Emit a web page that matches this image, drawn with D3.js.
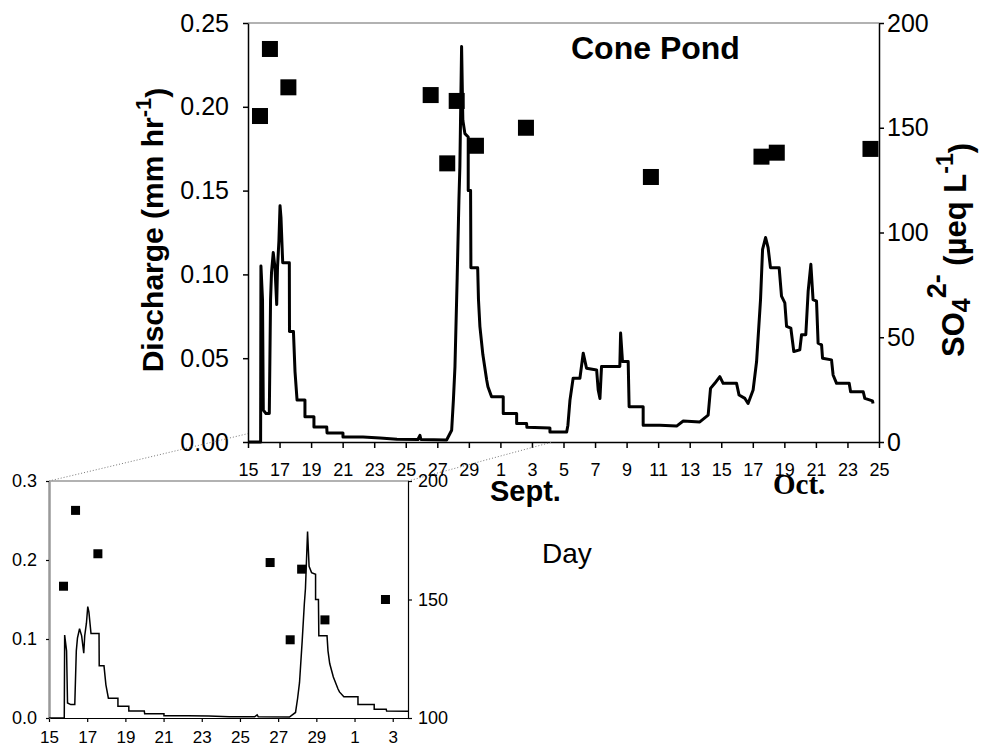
<!DOCTYPE html>
<html>
<head>
<meta charset="utf-8">
<script src="https://cdn.jsdelivr.net/npm/d3@7"></script>
<style>
  body { margin: 0; background: #fff; }
  svg text { font-family: "Liberation Sans", Arial, sans-serif; }
</style>
</head>
<body>
<div id="chart"></div>
<script>
// position along the day axis (0 = first tick "15", 2 units per labelled tick), discharge in mm/hr
const discharge = [
  [0, 0], [0.80, 0], [0.82, 0.105], [0.92, 0.085], [0.97, 0.019], [1.14, 0.017], [1.35, 0.017],
  [1.43, 0.085], [1.49, 0.101], [1.60, 0.113], [1.71, 0.104], [1.82, 0.082], [1.87, 0.104],
  [1.96, 0.120], [2.03, 0.141], [2.09, 0.134], [2.20, 0.107], [2.62, 0.107], [2.63, 0.066],
  [2.88, 0.066], [2.98, 0.042], [3.11, 0.025], [3.61, 0.025], [3.61, 0.015], [4.18, 0.015],
  [4.18, 0.009], [4.99, 0.009], [5.01, 0.0054], [6.02, 0.0054], [6.02, 0.003], [7.29, 0.003],
  [8.37, 0.0024], [9.44, 0.0016], [10.77, 0.0015], [10.90, 0.004], [10.96, 0.0015],
  [12.59, 0.0012], [12.91, 0.007], [13.02, 0.025], [13.12, 0.045], [13.26, 0.098], [13.37, 0.144],
  [13.43, 0.164], [13.54, 0.236], [13.62, 0.192], [13.75, 0.184], [13.96, 0.182], [13.96, 0.150],
  [14.11, 0.150], [14.13, 0.104], [14.56, 0.104], [14.61, 0.085], [14.70, 0.069], [14.89, 0.052],
  [15.13, 0.037], [15.21, 0.033], [15.44, 0.027], [16.18, 0.027], [16.18, 0.017], [17.03, 0.017],
  [17.03, 0.011], [17.66, 0.011], [17.68, 0.0088], [19.14, 0.0084], [19.14, 0.006], [20.20, 0.006],
  [20.28, 0.010], [20.41, 0.025], [20.61, 0.038], [21.04, 0.038], [21.25, 0.053], [21.46, 0.044],
  [22.10, 0.043], [22.20, 0.031], [22.31, 0.026], [22.41, 0.045], [23.57, 0.045], [23.62, 0.065],
  [23.74, 0.048], [24.10, 0.048], [24.16, 0.021], [25.05, 0.021], [25.05, 0.010], [26.11, 0.010],
  [27.17, 0.0095], [27.59, 0.0125], [28.64, 0.012], [29.17, 0.016], [29.32, 0.032], [29.59, 0.035],
  [29.91, 0.039], [30.12, 0.035], [30.97, 0.035], [31.13, 0.028], [31.50, 0.026], [31.70, 0.023],
  [32.02, 0.031], [32.24, 0.048], [32.49, 0.085], [32.62, 0.115], [32.81, 0.122], [32.97, 0.116],
  [33.12, 0.104], [33.67, 0.104], [33.82, 0.087], [34.03, 0.083], [34.14, 0.069], [34.41, 0.068],
  [34.60, 0.054], [34.98, 0.055], [35.09, 0.064], [35.36, 0.064], [35.51, 0.090], [35.68, 0.106],
  [35.82, 0.085], [36.04, 0.084], [36.14, 0.059], [36.36, 0.058], [36.42, 0.050], [36.99, 0.049],
  [37.09, 0.040], [37.31, 0.035], [38.11, 0.035], [38.20, 0.030], [39.00, 0.030], [39.10, 0.026],
  [39.59, 0.0245], [39.62, 0.023]
];

// sulfate samples (ueq/L)
const so4Day = [0.76, 1.39, 2.56, 11.58, 12.63, 13.23, 14.45, 17.62, 25.54, 32.55, 33.52, 39.46];
const so4Value = [155.6, 187.6, 169.3, 165.6, 133, 162.8, 141.4, 150, 126.5, 136.2, 138.1, 139.9];

const dayLabels = ["15", "17", "19", "21", "23", "25", "27", "29", "1", "3", "5", "7", "9",
  "11", "13", "15", "17", "19", "21", "23", "25"];
const dischargeTicks = [0, 0.05, 0.10, 0.15, 0.20, 0.25];
const so4Ticks = [0, 50, 100, 150, 200];
const insetDischargeTicks = [0, 0.1, 0.2, 0.3];
const insetSo4Ticks = [100, 150, 200];
const insetDayEnd = 18.8;

const sans = "'Liberation Sans', Arial, sans-serif";

const svg = d3.select("#chart")
  .append("svg")
  .attr("width", 982)
  .attr("height", 746);

// ---------- main chart ----------
const main = { left: 248, right: 879, top: 23, bottom: 442 };

const x = d3.scaleLinear().domain([0, 40]).range([main.left, main.right]);
const yQ = d3.scaleLinear().domain([0, 0.25]).range([main.bottom, main.top]);
const yS = d3.scaleLinear().domain([0, 200]).range([main.bottom, main.top]);

// top border
svg.append("line")
  .attr("x1", main.left).attr("x2", main.right)
  .attr("y1", main.top).attr("y2", main.top)
  .attr("stroke", "#999").attr("stroke-width", 1.5);

function styleAxis(g, size, width) {
  g.selectAll("path").attr("stroke", "#000").attr("stroke-width", width);
  g.selectAll("line").attr("stroke", "#000").attr("stroke-width", width);
  g.selectAll("text")
    .attr("fill", "#000")
    .style("font-family", sans)
    .style("font-size", size + "px");
}

svg.append("g")
  .attr("transform", `translate(0,${main.bottom})`)
  .call(d3.axisBottom(x)
    .tickValues(d3.range(0, 41, 2))
    .tickFormat((d, i) => dayLabels[i])
    .tickSize(6).tickPadding(15).tickSizeOuter(0))
  .call(g => styleAxis(g, 18, 1.5));

svg.append("g")
  .attr("transform", `translate(${main.left},0)`)
  .call(d3.axisLeft(yQ)
    .tickValues(dischargeTicks)
    .tickFormat(d3.format(".2f"))
    .tickSize(5).tickPadding(14).tickSizeOuter(0))
  .call(g => styleAxis(g, 25, 1.5));

svg.append("g")
  .attr("transform", `translate(${main.right},0)`)
  .call(d3.axisRight(yS)
    .tickValues(so4Ticks)
    .tickSize(5).tickPadding(3).tickSizeOuter(0))
  .call(g => styleAxis(g, 25, 1.5));

const line = d3.line()
  .x(d => x(d[0]))
  .y(d => yQ(d[1]));

svg.append("path")
  .datum(discharge)
  .attr("fill", "none")
  .attr("stroke", "#000")
  .attr("stroke-width", 3)
  .attr("stroke-linejoin", "round")
  .attr("d", line);

const sq = 16;
svg.append("g")
  .selectAll("rect")
  .data(so4Day)
  .join("rect")
  .attr("x", (d, i) => x(d) - sq / 2)
  .attr("y", (d, i) => yS(so4Value[i]) - sq / 2)
  .attr("width", sq)
  .attr("height", sq)
  .attr("fill", "#000");

// titles and labels
svg.append("text")
  .attr("x", 571).attr("y", 59)
  .style("font-family", sans)
  .style("font-size", "32px").style("font-weight", "bold")
  .text("Cone Pond");

const ylab = svg.append("text")
  .attr("transform", "translate(163,230) rotate(-90)")
  .attr("text-anchor", "middle")
  .style("font-family", sans)
  .style("font-size", "30px").style("font-weight", "bold");
ylab.append("tspan").text("Discharge (mm hr");
ylab.append("tspan").attr("dy", "-0.55em").style("font-size", "22px").text("-1");
ylab.append("tspan").attr("dy", "0.55em").text(")");

const slab = svg.append("text")
  .attr("transform", "translate(964,250) rotate(-90)")
  .attr("text-anchor", "middle")
  .style("font-family", sans)
  .style("font-size", "31px").style("font-weight", "bold");
slab.append("tspan").text("SO");
slab.append("tspan").attr("dy", "0.25em").style("font-size", "25px").text("4");
slab.append("tspan").attr("dy", "-0.9em").style("font-size", "27px").text("2-");
slab.append("tspan").attr("dy", "0.65em").text(" (\u00b5eq L");
slab.append("tspan").attr("dy", "-0.55em").style("font-size", "23px").text("-1");
slab.append("tspan").attr("dy", "0.55em").text(")");

svg.append("text")
  .attr("x", 490).attr("y", 501)
  .style("font-family", sans)
  .style("font-size", "29px").style("font-weight", "bold")
  .text("Sept.");

svg.append("text")
  .attr("x", 773).attr("y", 494)
  .style("font-family", "'Liberation Serif', 'Times New Roman', serif")
  .style("font-size", "29px").style("font-weight", "bold")
  .text("Oct.");

svg.append("text")
  .attr("x", 542).attr("y", 563)
  .style("font-family", sans)
  .style("font-size", "28px")
  .text("Day");

// ---------- inset ----------
const inset = { left: 49, right: 408, top: 481, bottom: 718 };

const xi = d3.scaleLinear().domain([0, insetDayEnd]).range([inset.left, inset.right]);
const yiQ = d3.scaleLinear().domain([0, 0.3]).range([inset.bottom, inset.top]);
const yiS = d3.scaleLinear().domain([100, 200]).range([inset.bottom, inset.top]);

// dotted zoom connectors
svg.append("line")
  .attr("x1", xi(0)).attr("y1", yiQ(0.3))
  .attr("x2", x(0)).attr("y2", yQ(0.005))
  .attr("stroke", "#777").attr("stroke-width", 1).attr("stroke-dasharray", "1,2");
svg.append("line")
  .attr("x1", xi(insetDayEnd)).attr("y1", yiS(200))
  .attr("x2", x(19.3)).attr("y2", yQ(0))
  .attr("stroke", "#777").attr("stroke-width", 1).attr("stroke-dasharray", "1,2");

svg.append("line")
  .attr("x1", inset.left).attr("x2", inset.right)
  .attr("y1", inset.top).attr("y2", inset.top)
  .attr("stroke", "#999").attr("stroke-width", 1.5);

svg.append("g")
  .attr("transform", `translate(0,${inset.bottom})`)
  .call(d3.axisBottom(xi)
    .tickValues(d3.range(0, 19, 2))
    .tickFormat((d, i) => dayLabels[i])
    .tickSize(4).tickPadding(9).tickSizeOuter(0))
  .call(g => styleAxis(g, 17, 1.2));

svg.append("g")
  .attr("transform", `translate(${inset.left},0)`)
  .call(d3.axisLeft(yiQ)
    .tickValues(insetDischargeTicks)
    .tickFormat(d3.format(".1f"))
    .tickSize(3).tickPadding(9).tickSizeOuter(0))
  .call(g => styleAxis(g, 18, 1.2))
  .call(g => g.select(".domain").attr("stroke", "#999").attr("stroke-width", 2.5));

svg.append("g")
  .attr("transform", `translate(${inset.right},0)`)
  .call(d3.axisRight(yiS)
    .tickValues(insetSo4Ticks)
    .tickSize(4).tickPadding(6).tickSizeOuter(0))
  .call(g => styleAxis(g, 18, 1.2));

svg.append("clipPath")
  .attr("id", "inset-clip")
  .append("rect")
  .attr("x", inset.left).attr("y", inset.top - 2)
  .attr("width", inset.right - inset.left)
  .attr("height", inset.bottom - inset.top + 2);

const insetLine = d3.line()
  .x(d => xi(d[0]))
  .y(d => yiQ(d[1]));

svg.append("path")
  .datum(discharge.filter(d => d[0] <= insetDayEnd + 1))
  .attr("clip-path", "url(#inset-clip)")
  .attr("fill", "none")
  .attr("stroke", "#000")
  .attr("stroke-width", 1.5)
  .attr("d", insetLine);

const isq = 9;
svg.append("g")
  .selectAll("rect")
  .data(so4Day.filter(d => d <= insetDayEnd))
  .join("rect")
  .attr("x", d => xi(d) - isq / 2)
  .attr("y", (d, i) => yiS(so4Value[i]) - isq / 2)
  .attr("width", isq)
  .attr("height", isq)
  .attr("fill", "#000");
</script>
</body>
</html>
